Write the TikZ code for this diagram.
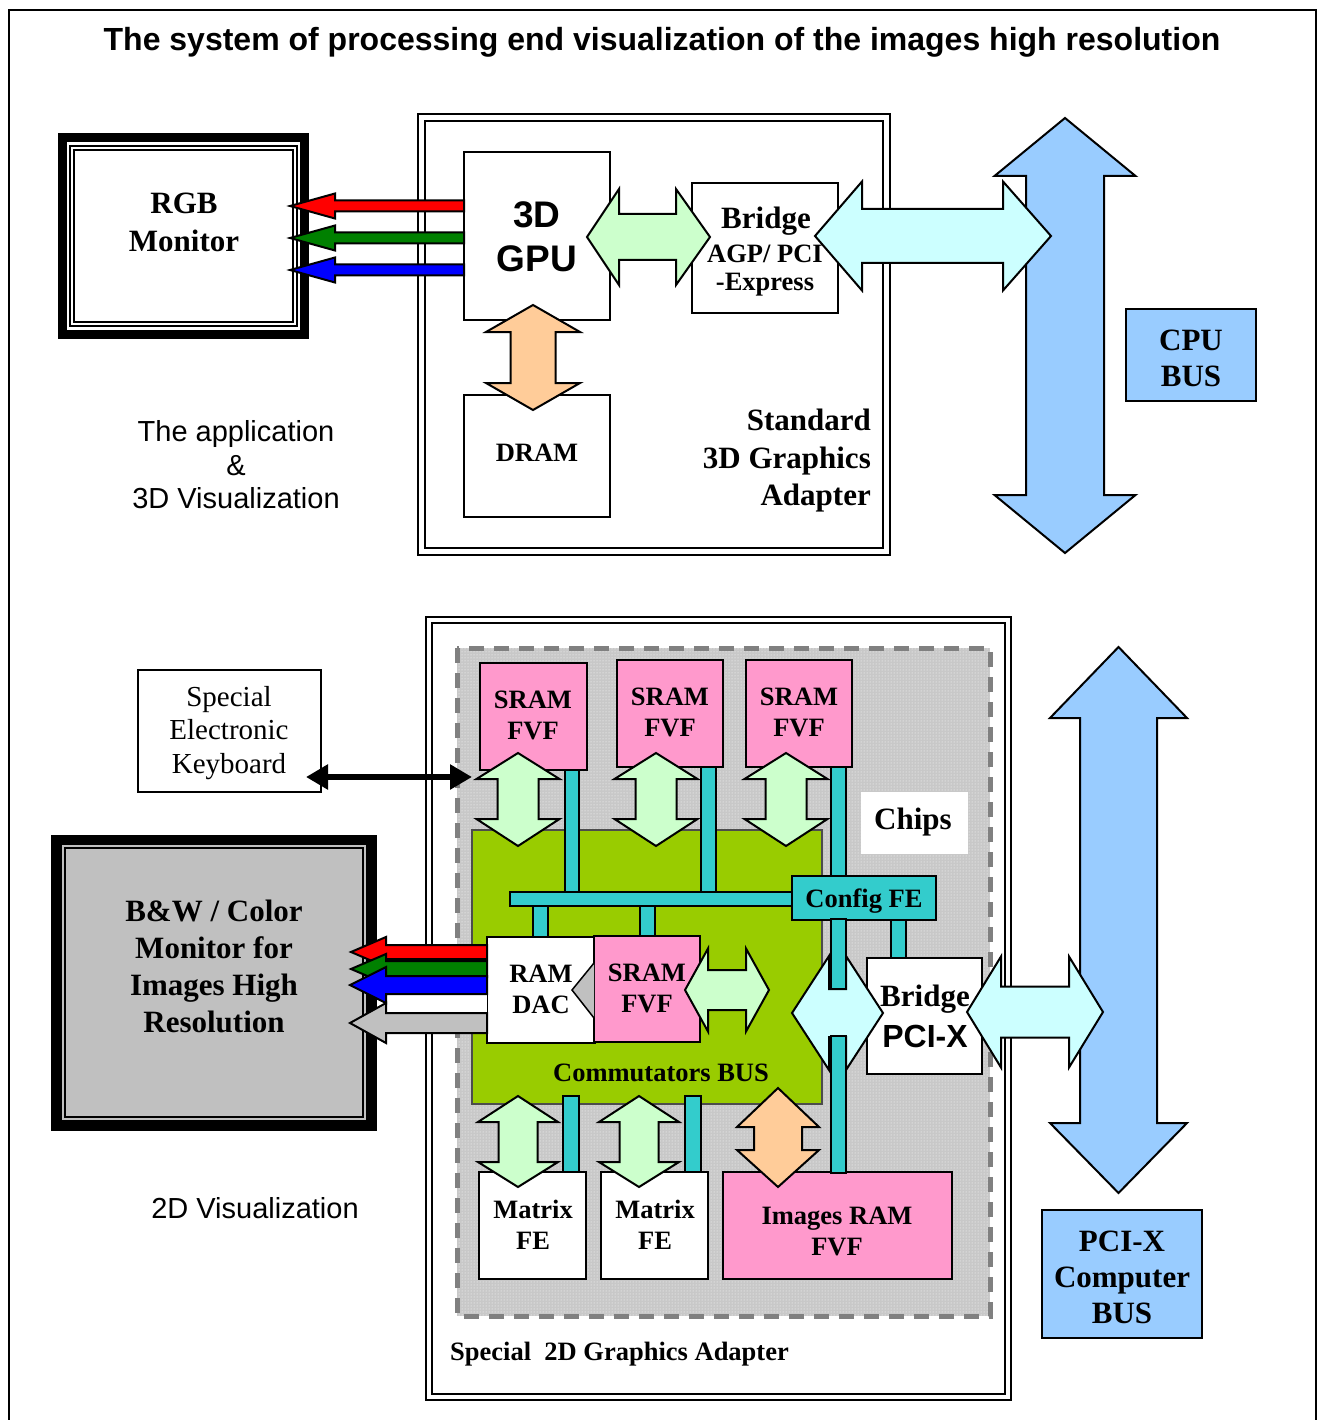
\documentclass[tikz,border=0pt]{standalone}
\usepackage{fontspec}
\setmainfont{Liberation Serif}
\setsansfont{Liberation Sans}
\usetikzlibrary{arrows.meta,patterns}
\definecolor{pinkc}{HTML}{FF99CC}
\definecolor{tealc}{HTML}{33CCCC}
\definecolor{lgreen}{HTML}{CCFFCC}
\definecolor{lcyan}{HTML}{CCFFFF}
\definecolor{orangec}{HTML}{FFCC99}
\definecolor{busblue}{HTML}{99CCFF}
\definecolor{grayc}{HTML}{C0C0C0}
\definecolor{commgreen}{HTML}{99CC00}
\definecolor{dotgray}{HTML}{C8C8C8}
\definecolor{dashgray}{HTML}{808080}
\definecolor{redc}{HTML}{FF0000}
\definecolor{greenc}{HTML}{008000}
\definecolor{bluec}{HTML}{0000FF}
% block arrows
\newcommand\myHDA[8]{\filldraw[blockarrow,#1] (#2,#6) -- (#3,#6-#8) -- (#3,#6-#7) -- (#4,#6-#7) -- (#4,#6-#8) -- (#5,#6) -- (#4,#6+#8) -- (#4,#6+#7) -- (#3,#6+#7) -- (#3,#6+#8) -- cycle;}
\newcommand\myVDA[8]{\filldraw[blockarrow,#1] (#6,#2) -- (#6+#8,#3) -- (#6+#7,#3) -- (#6+#7,#4) -- (#6+#8,#4) -- (#6,#5) -- (#6-#8,#4) -- (#6-#7,#4) -- (#6-#7,#3) -- (#6-#8,#3) -- cycle;}
\newcommand\myLA[7]{\filldraw[blockarrow,#1] (#2,#5) -- (#3,#5-#7) -- (#3,#5-#6) -- (#4,#5-#6) -- (#4,#5+#6) -- (#3,#5+#6) -- (#3,#5+#7) -- cycle;}
\newcommand\mybar[4]{\filldraw[fill=tealc,draw=black,line width=1.6pt] (#1,#2) rectangle (#3,#4);}
\tikzset{
  blockarrow/.style={draw=black,line width=2pt,line join=miter},
  box/.style={draw=black,line width=2pt,fill=white,inner sep=0pt,rectangle},
  frameline/.style={draw=black,line width=2pt},
  sB31/.style={font=\fontsize{31}{38}\selectfont\bfseries,align=center,inner sep=0pt},
  sB26/.style={font=\fontsize{26.5}{31}\selectfont\bfseries,align=center,inner sep=0pt},
  sR29/.style={font=\fontsize{29}{33.5}\selectfont,align=center,inner sep=0pt},
  aR29/.style={font=\sffamily\fontsize{29}{33.5}\selectfont,align=center,inner sep=0pt},
  aB37/.style={font=\sffamily\bfseries\fontsize{37}{44}\selectfont,align=center,inner sep=0pt},
}
\begin{document}
\begin{tikzpicture}[x=1pt,y=-1pt]
\useasboundingbox (0,0) rectangle (1321,1420);
\fill[white] (0,0) rectangle (1321,1420);
\draw[line width=2.2pt] (9,1425) -- (9,10) -- (1316,10) -- (1316,1425);
\node[font=\sffamily\bfseries\fontsize{32}{38}\selectfont,inner sep=0pt] (title) at (662,42) {The system of processing end visualization of the images high resolution};

% ================= TOP SECTION =================
\draw[frameline] (418,114) rectangle (890,555);
\draw[frameline] (425,121) rectangle (883,548);
% RGB monitor
\node[draw=black,line width=9pt,minimum width=242pt,minimum height=196pt,inner sep=0pt,fill=white] (rgbmon) at (183.5,236) {};
\draw[line width=1.5pt] (70,146) rectangle (297,326);
\draw[line width=1.5pt] (74,150) rectangle (293,322);
\node[sB31] (rgbtxt) at (184,222) {RGB\\Monitor};

\node[box,minimum width=146pt,minimum height=168pt] (gpu) at (537,236) {};
\node[aB37] (gputxt) at (537,237) {3D\\GPU};
\node[box,minimum width=146pt,minimum height=130pt] (bridge) at (765,248) {};
\node[sB31] (bridgetxt) at (766,221) {Bridge};
\node[sB26] (agptxt) at (765,254) {AGP/ PCI};
\node[sB26] (exptxt) at (765,285) {-Express};
\node[box,minimum width=146pt,minimum height=122pt] (dram) at (537,456) {};
\node[sB26] (dramtxt) at (537,453) {DRAM};

\node[sB31,align=right,anchor=east,font=\fontsize{31}{37.5}\selectfont\bfseries] (stdtxt) at (871,461) {Standard\\3D Graphics\\Adapter};
\node[aR29] (apptxt) at (236,465) {The application\\\&\\3D Visualization};

% RGB arrows top
\myLA{fill=redc}{290}{335}{464}{206}{5.5}{12.5}
\myLA{fill=greenc}{290}{335}{464}{238}{5.5}{12.5}
\myLA{fill=bluec}{290}{335}{464}{270}{5.5}{12.5}
% GPU-Bridge
\myHDA{fill=lgreen}{587}{619}{676}{710}{237}{23}{48}
% GPU-DRAM
\myVDA{fill=orangec}{305}{332}{383}{410}{533}{22.5}{47}
% CPU bus
\myVDA{fill=busblue}{118}{176}{495}{553}{1065}{39}{70.5}
\myHDA{fill=lcyan}{815}{862}{1003}{1051}{236}{27}{54.5}
\node[box,fill=busblue,minimum width=130pt,minimum height=92pt] (cpubus) at (1191,355) {};
\node[sB31,font=\fontsize{31}{36}\selectfont\bfseries] (cputxt) at (1191,358) {CPU\\BUS};

% ================= BOTTOM SECTION =================
\draw[frameline] (426,617) rectangle (1011,1400);
\draw[frameline] (432,623) rectangle (1005,1394);
\fill[dotgray] (457,648) rectangle (990,1316);
\fill[pattern=dots,pattern color=white] (457,648) rectangle (990,1316);
\draw[draw=dashgray,line width=5pt,dash pattern=on 15pt off 10pt] (457,648) rectangle (990,1316);
\filldraw[fill=commgreen,draw=black!70,line width=1.5pt] (472,830) rectangle (822,1104);
\fill[white] (861,792) rectangle (968,854);
\node[sB31] (chipstxt) at (913,822) {Chips};

% teal bus lines (under boxes)
\mybar{565}{770}{579}{892}
\mybar{701}{767}{716}{892}
\mybar{831}{767}{846}{880}
\mybar{533}{904}{548}{938}
\mybar{640}{904}{655}{938}
\mybar{891}{918}{906}{960}
\mybar{563}{1096}{579}{1173}
\mybar{685}{1096}{701}{1173}
\mybar{510}{892}{794}{906}
\node[box,fill=tealc,minimum width=144pt,minimum height=44pt] (config) at (864,898) {};
\node[sB26] (configtxt) at (864,901) {Config FE};

% boxes
\node[box,fill=pinkc,minimum width=107pt,minimum height=107pt] (sram1) at (533.5,716.5) {};
\node[sB26] (sram1t) at (533,715) {SRAM\\FVF};
\node[box,fill=pinkc,minimum width=106pt,minimum height=107pt] (sram2) at (670,713.5) {};
\node[sB26] (sram2t) at (670,712) {SRAM\\FVF};
\node[box,fill=pinkc,minimum width=106pt,minimum height=107pt] (sram3) at (799,713.5) {};
\node[sB26] (sram3t) at (799,712) {SRAM\\FVF};
\node[box,minimum width=108pt,minimum height=106pt] (ramdac) at (541,990) {};
\node[sB26] (ramdact) at (541,989) {RAM\\DAC};
\node[box,fill=pinkc,minimum width=106pt,minimum height=106pt] (sram4) at (647,989) {};
\node[sB26] (sram4t) at (647,988) {SRAM\\FVF};
\node[box,minimum width=115pt,minimum height=116pt] (bridgex) at (924.5,1016) {};
\node[sB31] (bridgext) at (925,999) {Bridge};
\node[font=\sffamily\bfseries\fontsize{32}{38}\selectfont,inner sep=0pt] (pcixt) at (925,1036) {PCI-X};
\node[box,minimum width=107pt,minimum height=107pt] (matrix1) at (532.5,1225.5) {};
\node[sB26] (matrix1t) at (533,1225) {Matrix\\FE};
\node[box,minimum width=107pt,minimum height=107pt] (matrix2) at (654.5,1225.5) {};
\node[sB26] (matrix2t) at (655,1225) {Matrix\\FE};
\node[box,fill=pinkc,minimum width=229pt,minimum height=107pt] (imgram) at (837.5,1225.5) {};
\node[sB26] (imgramt) at (837,1231) {Images RAM\\FVF};
\node[sB26] (commtxt) at (661,1073) {Commutators BUS};

% cyan rhombus arrow and bar segments over it
\myHDA{fill=lcyan}{792}{829}{846}{883}{1013}{24}{57}
\mybar{831}{919}{846}{989}
\mybar{831}{1036}{846}{1173}

% block arrows bottom
\myVDA{fill=lgreen}{753}{779}{819}{846}{518}{20.5}{41.5}
\myVDA{fill=lgreen}{753}{779}{819}{846}{656}{20.5}{41.5}
\myVDA{fill=lgreen}{753}{779}{819}{846}{786}{20.5}{41.5}
\myVDA{fill=lgreen}{1096}{1122}{1162}{1187}{518}{19.5}{40}
\myVDA{fill=lgreen}{1096}{1122}{1162}{1187}{639}{19.5}{40}
\myVDA{fill=orangec}{1088}{1127}{1150}{1187}{778}{24}{41}
\myHDA{fill=lgreen}{685}{708}{746}{769}{990}{20}{41.5}
\filldraw[fill=grayc,draw=black,line width=1.5pt,line join=miter] (594,963) -- (572,990) -- (594,1018);

% PCI-X bus
\myVDA{fill=busblue}{647}{718}{1123}{1193}{1118.5}{38.5}{68.5}
\myHDA{fill=lcyan}{967}{1001}{1069}{1103}{1012}{25.5}{55.5}
\node[box,fill=busblue,minimum width=160pt,minimum height=128pt] (pcixbus) at (1122,1274) {};
\node[sB31,font=\fontsize{31}{36}\selectfont\bfseries] (pcixbust) at (1122,1277) {PCI-X\\Computer\\BUS};

\node[sB26,anchor=west] (spectxt) at (450,1354) {Special\ \ 2D Graphics Adapter};

% keyboard
\node[box,minimum width=183pt,minimum height=122pt] (keyb) at (229.5,731) {};
\node[sR29] (keybt) at (229,733) {Special\\Electronic\\Keyboard};
\coordinate (kbL) at (306,777);
\coordinate (kbR) at (472,777);
\draw[line width=6pt,{Triangle[length=22pt,width=24pt]}-{Triangle[length=22pt,width=24pt]}] (kbL) -- (kbR);

% B&W monitor
\node[draw=black,line width=9pt,fill=grayc,minimum width=317pt,minimum height=287pt,inner sep=0pt] (bwmon) at (214,982.5) {};
\draw[line width=1.5pt] (61,844) rectangle (367,1121);
\draw[line width=1.5pt] (65,848) rectangle (363,1117);
\node[sB31,font=\fontsize{31}{37}\selectfont\bfseries] (bwtxt) at (214,966) {B\&W / Color\\Monitor for\\Images High\\Resolution};
\node[aR29] (viz2d) at (255,1208) {2D Visualization};

% RGB arrows bottom
\fill[white] (386,994) rectangle (487,1013);
\draw[line width=1.5pt] (386,994) -- (386,1013);
\myLA{fill=grayc}{350}{386}{487}{1023}{10}{20}
\myLA{fill=redc}{351}{386}{487}{952}{7}{15}
\myLA{fill=greenc}{351}{386}{487}{969}{8}{15}
\myLA{fill=bluec}{350}{386}{487}{985}{9}{18}
\end{tikzpicture}
\end{document}
